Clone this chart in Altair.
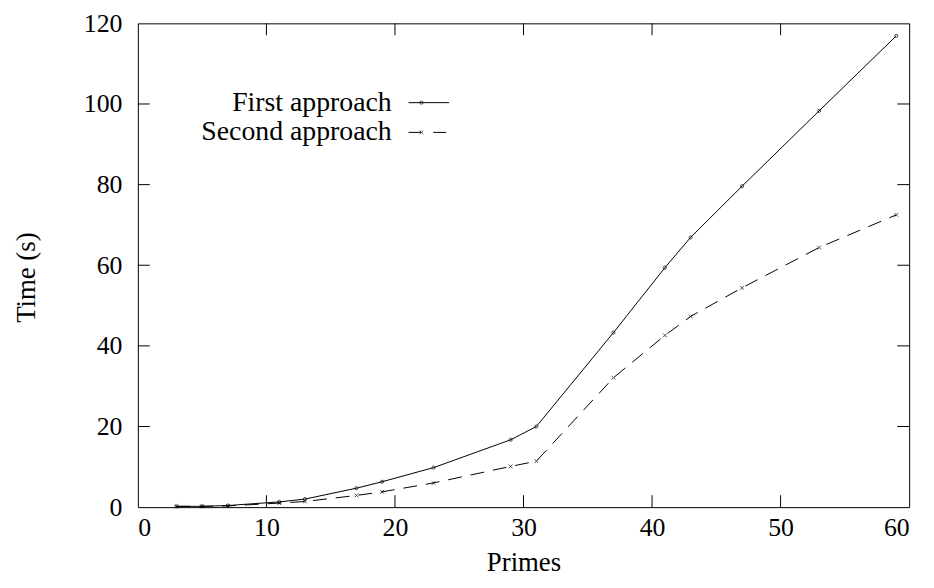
import altair as alt
import pandas as pd

primes = [3, 5, 7, 11, 13, 17, 19, 23, 29, 31, 37, 41, 43, 47, 53, 59]
first_approach = [0.2, 0.2, 0.4, 1.3, 2.0, 4.7, 6.3, 9.8, 16.7, 20.0, 43.3, 59.4, 66.9, 79.6, 98.3, 116.9]
second_approach = [0.2, 0.2, 0.3, 1.0, 1.4, 2.9, 3.8, 6.0, 10.1, 11.4, 32.1, 42.6, 47.3, 54.4, 64.4, 72.5]
series_names = ["First approach", "Second approach"]
x_ticks = [0, 10, 20, 30, 40, 50, 60]
y_ticks = [0, 20, 40, 60, 80, 100, 120]
inner_x_ticks = [10, 20, 30, 40, 50]
inner_y_ticks = [20, 40, 60, 80, 100]

FONT = "Liberation Serif"
W, H = 778, 488
TL = 12  # inward tick length (px)

df1 = pd.DataFrame({"p": primes, "t": first_approach})
df2 = pd.DataFrame({"p": primes, "t": second_approach})

xs = alt.Scale(domain=[0, 60], nice=False, zero=False)
ys = alt.Scale(domain=[0, 120], nice=False, zero=False)

xax = alt.Axis(values=x_ticks, grid=False, domain=False, ticks=False, labelFont=FONT,
               labelFontSize=26, labelColor="black", labelPadding=8,
               titleFont=FONT, titleFontSize=27, titleFontWeight="normal", titleColor="black",
               titlePadding=9)
yax = alt.Axis(values=y_ticks, grid=False, domain=False, ticks=False, labelFont=FONT,
               labelFontSize=26, labelColor="black", labelPadding=16,
               titleFont=FONT, titleFontSize=27, titleFontWeight="normal", titleColor="black",
               titlePadding=43, titleY=256)

X = alt.X("p:Q", scale=xs, axis=xax, title="Primes")
Y = alt.Y("t:Q", scale=ys, axis=yax, title="Time (s)")

line1 = alt.Chart(df1).mark_line(color="black", strokeWidth=1).encode(x=X, y=Y)
line2 = alt.Chart(df2).mark_line(color="black", strokeWidth=1, strokeDash=[14, 9]).encode(x=X, y=Y)
pts1 = alt.Chart(df1).mark_point(shape="circle", filled=False, color="black", size=10,
                                 strokeWidth=1).encode(x=X, y=Y)
cross = "M-1,-1L1,1M-1,1L1,-1"
pts2 = alt.Chart(df2).mark_point(shape=cross, filled=False, color="black", size=14,
                                 strokeWidth=1).encode(x=X, y=Y)

# inward ticks on all four sides
xt = pd.DataFrame({"p": inner_x_ticks})
yt = pd.DataFrame({"t": inner_y_ticks})
tick_b = alt.Chart(xt).mark_rule(color="black", strokeWidth=1).encode(
    x=X, y=alt.value(H), y2=alt.value(H - TL))
tick_t = alt.Chart(xt).mark_rule(color="black", strokeWidth=1).encode(
    x=X, y=alt.value(0), y2=alt.value(TL))
tick_l = alt.Chart(yt).mark_rule(color="black", strokeWidth=1).encode(
    y=Y, x=alt.value(0), x2=alt.value(TL))
tick_r = alt.Chart(yt).mark_rule(color="black", strokeWidth=1).encode(
    y=Y, x=alt.value(W), x2=alt.value(W - TL))

# manual legend (text right-aligned, line sample on the right)
LY = [80, 110]
leg1df = pd.DataFrame({"name": [series_names[0]]})
leg2df = pd.DataFrame({"name": [series_names[1]]})
leg_text1 = alt.Chart(leg1df).mark_text(align="right", baseline="middle", font=FONT, fontSize=28,
                                        color="black").encode(text="name:N", x=alt.value(256), y=alt.value(LY[0]))
leg_text2 = alt.Chart(leg2df).mark_text(align="right", baseline="middle", font=FONT, fontSize=28,
                                        color="black").encode(text="name:N", x=alt.value(256), y=alt.value(LY[1]))
leg1 = alt.Chart(leg1df).mark_rule(color="black", strokeWidth=1).encode(
    x=alt.value(273), x2=alt.value(314), y=alt.value(LY[0]))
leg2 = alt.Chart(leg2df).mark_rule(color="black", strokeWidth=1, strokeDash=[13, 12]).encode(
    x=alt.value(273), x2=alt.value(314), y=alt.value(LY[1]))
legp1 = alt.Chart(leg1df).mark_point(shape="circle", filled=False, color="black",
                                     size=10, strokeWidth=1).encode(x=alt.value(286), y=alt.value(LY[0]))
legp2 = alt.Chart(leg2df).mark_point(shape=cross, filled=False, color="black",
                                     size=14, strokeWidth=1).encode(x=alt.value(286), y=alt.value(LY[1]))

chart = alt.layer(line1, line2, pts1, pts2, tick_b, tick_t, tick_l, tick_r,
                  leg_text1, leg_text2, leg1, leg2, legp1, legp2).properties(
    width=W, height=H,
    autosize=alt.AutoSizeParams(type="none"),
    padding={"left": 131, "top": 13, "right": 17, "bottom": 70},
    background="white",
).configure_view(stroke="black", strokeWidth=1)

chart.save("out.html", embed_options={"renderer": "svg", "actions": False})
